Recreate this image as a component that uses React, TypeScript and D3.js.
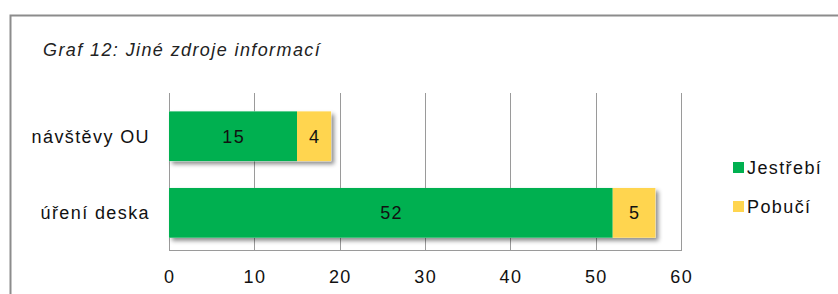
import React from "react";
import * as d3 from "d3";

const categories = ["návštěvy OU", "úření deska"];
const seriesNames = ["Jestřebí", "Pobučí"];
const jestrebi = [15, 52];
const pobuci = [4, 5];
const xTicks = [0, 10, 20, 30, 40, 50, 60];
const title = "Graf 12:  Jiné zdroje informací";

const colors = ["#00B050", "#FFD54F"];
const font = "'Liberation Sans', Arial, sans-serif";
const LS = 1.4;

export default function App() {
  const W = 838, H = 294;
  const left = 169, right = 681, top = 93, bottom = 250;
  const x = d3.scaleLinear().domain([0, 60]).range([left, right]);
  const y = d3.scaleBand().domain(categories).range([top, bottom]).paddingInner(0.35).paddingOuter(0.2).align(0.6);
  const series = [jestrebi, pobuci];
  const stacked = d3.stack<any>().keys(["0", "1"])(
    categories.map((c, i) => ({ "0": jestrebi[i], "1": pobuci[i] }))
  );
  return (
    <svg width={W} height={H} style={{ position: "absolute", left: 0, top: 0 }} fontFamily={font} letterSpacing={LS}>
      <defs>
        <filter id="sh" x="-10%" y="-20%" width="130%" height="160%">
          <feDropShadow dx="3" dy="3" stdDeviation="2" floodColor="#000" floodOpacity="0.45" />
        </filter>
      </defs>
      <rect x={0} y={0} width={W} height={H} fill="#fff" />
      <path d={`M10.5,${H} V15.5 H${W}`} fill="none" stroke="#8c8c8c" strokeWidth={2} />
      <text x={43} y={56} fontSize={18} fontStyle="italic" fill="#222">{title}</text>
      {xTicks.map((t) => (
        <line key={t} x1={Math.round(x(t)) + 0.5} x2={Math.round(x(t)) + 0.5} y1={top} y2={bottom} stroke="#9a9a9a" strokeWidth={1} />
      ))}
      <line x1={left} x2={right + 1} y1={bottom + 0.5} y2={bottom + 0.5} stroke="#9a9a9a" />
      {categories.map((c, i) => {
        const yy = y(c)!;
        const bh = y.bandwidth();
        const x0 = x(0), xEnd = x(jestrebi[i] + pobuci[i]);
        return (
          <g key={c}>
            <rect x={x0} y={yy} width={xEnd - x0} height={bh} fill="#fff" filter="url(#sh)" />
            {stacked.map((s, si) => (
              <rect key={si} x={x(s[i][0])} y={yy} width={x(s[i][1]) - x(s[i][0])} height={bh} fill={colors[si]} />
            ))}
            {stacked.map((s, si) => (
              <text key={"t" + si} x={(x(s[i][0]) + x(s[i][1])) / 2 + LS / 2} y={yy + bh / 2} dy="0.35em" textAnchor="middle" fontSize={18} fill="#111">
                {series[si][i]}
              </text>
            ))}
            <text x={150} y={yy + bh / 2} dy="0.35em" textAnchor="end" fontSize={18} fill="#111">{c}</text>
          </g>
        );
      })}
      {xTicks.map((t) => (
        <text key={"l" + t} x={x(t) + LS / 2} y={277} dy="0.35em" textAnchor="middle" fontSize={18} fill="#111">{t}</text>
      ))}
      {seriesNames.map((n, i) => (
        <g key={n}>
          <rect x={733} y={162 + i * 39} width={11} height={11} fill={colors[i]} />
          <text x={747} y={168 + i * 39} dy="0.35em" fontSize={18} fill="#111">{n}</text>
        </g>
      ))}
    </svg>
  );
}
